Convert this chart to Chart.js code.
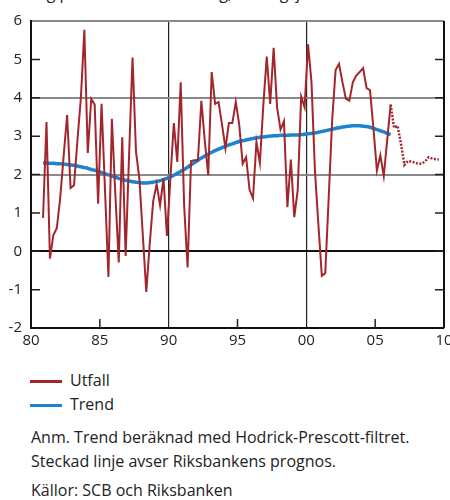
<!DOCTYPE html>
<html>
<head>
<meta charset="utf-8">
<script src="https://cdn.jsdelivr.net/npm/chart.js@4"></script>
<style>
body { margin:0; background:#fff; font-family:"Open Sans", sans-serif; color:#222; }
#wrap { position:relative; width:450px; height:500px; overflow:hidden; }
#box { position:absolute; left:0; top:0; width:450px; height:350px; }
.t { position:absolute; font-size:16px; line-height:20px; white-space:nowrap; }
.sw { position:absolute; left:30px; width:32px; height:2.5px; }
</style>
</head>
<body>
<div id="wrap">
<div class="t" style="left:22px;top:-17px;">Årlig procentuell förändring, säsongsjusterade data</div>
<div id="box"><canvas id="chart"></canvas></div>
<div class="sw" style="top:380px;background:#a3262c;"></div>
<div class="t" style="left:70px;top:370px;">Utfall</div>
<div class="sw" style="top:404px;background:#1b84d0;"></div>
<div class="t" style="left:70px;top:394px;">Trend</div>
<div class="t" style="left:31px;top:427px;">Anm. Trend beräknad med Hodrick-Prescott-filtret.</div>
<div class="t" style="left:31px;top:451px;">Steckad linje avser Riksbankens prognos.</div>
<div class="t" style="left:31px;top:480px;">Källor: SCB och Riksbanken</div>
</div>
<script>
// quarterly data, first quarter 1980 Q4 (plotted mid-quarter)
const startYear = 1980.875;

const utfall = [
0.87, 3.37, -0.19, 0.42, 0.6, 1.4, 2.5, 3.55, 1.65, 1.72,
2.9, 4.0, 5.77, 2.56, 3.97, 3.82, 1.24, 3.84, 1.6, -0.67,
3.45, 1.5, -0.29, 2.97, -0.12, 2.5, 5.05, 2.6, 1.88, 0.4,
-1.06, 0.2, 1.3, 1.75, 1.2, 1.9, 0.4, 1.9, 3.34, 2.33,
4.4, 1.18, -0.42, 2.35, 2.37, 2.37, 3.92, 2.87, 1.98, 4.67,
3.84, 3.89, 3.3, 2.68, 3.34, 3.34, 3.89, 3.3, 2.28, 2.45,
1.6, 1.38, 2.85, 2.3, 3.8, 5.07, 3.84, 5.3, 3.75, 3.17,
3.39, 1.15, 2.39, 0.89, 1.6, 4.03, 3.75, 5.39, 4.4, 2.1,
0.7, -0.64, -0.57, 1.4, 3.4, 4.72, 4.88, 4.4, 3.97, 3.92,
4.4, 4.58, 4.67, 4.77, 4.25, 4.2, 3.2, 2.1, 2.5, 1.96,
2.9, 3.82
];

// forecast starts at the last outcome quarter
const prognos = [
3.82, 3.22, 3.27, 2.8, 2.25, 2.35, 2.34, 2.31, 2.28, 2.28,
2.34, 2.45, 2.42, 2.40, 2.39
];

const trend = [
2.30, 2.30, 2.29, 2.29, 2.28, 2.28, 2.27, 2.26, 2.25, 2.24,
2.22, 2.20, 2.18, 2.16, 2.13, 2.11, 2.08, 2.05, 2.02, 1.99,
1.96, 1.93, 1.90, 1.87, 1.85, 1.83, 1.81, 1.80, 1.79, 1.78,
1.78, 1.79, 1.80, 1.82, 1.84, 1.87, 1.90, 1.94, 1.98, 2.03,
2.08, 2.13, 2.19, 2.25, 2.31, 2.37, 2.43, 2.48, 2.53, 2.58,
2.62, 2.66, 2.70, 2.74, 2.77, 2.80, 2.83, 2.86, 2.88, 2.90,
2.92, 2.94, 2.96, 2.97, 2.98, 2.99, 3.00, 3.01, 3.01, 3.02,
3.02, 3.02, 3.03, 3.03, 3.03, 3.04, 3.05, 3.06, 3.07, 3.08,
3.10, 3.12, 3.14, 3.16, 3.18, 3.20, 3.22, 3.24, 3.25, 3.26,
3.27, 3.27, 3.27, 3.26, 3.25, 3.23, 3.20, 3.17, 3.14, 3.11,
3.07, 3.04
];

const xTicks = [1980, 1985, 1990, 1995, 2000, 2005, 2010];

const toPoints = (arr, offset) => arr.map((v, i) => ({ x: startYear + (i + offset) / 4, y: v }));

const red = "#a3262c";
const blue = "#1b84d0";

// inward tick marks + right frame
const frame = {
  id: "frame",
  afterDraw(chart) {
    const ctx = chart.ctx;
    const a = chart.chartArea;
    const xs = chart.scales.x, ys = chart.scales.y;
    ctx.save();
    ctx.strokeStyle = "#222";
    ctx.lineWidth = 1.5;
    ctx.beginPath();
    for (let v = -1; v <= 5; v++) {
      const y = ys.getPixelForValue(v);
      ctx.moveTo(a.left, y); ctx.lineTo(a.left + 9, y);
      ctx.moveTo(a.right - 9, y); ctx.lineTo(a.right, y);
    }
    [1985, 1995, 2005].forEach(v => {
      const x = xs.getPixelForValue(v);
      ctx.moveTo(x, a.bottom); ctx.lineTo(x, a.bottom - 9);
    });
    ctx.stroke();
    ctx.lineWidth = 2;
    ctx.strokeStyle = "#111";
    ctx.beginPath();
    ctx.moveTo(a.right, a.top); ctx.lineTo(a.right, a.bottom);
    ctx.stroke();
    ctx.restore();
  }
};

new Chart(document.getElementById("chart"), {
  type: "line",
  data: {
    datasets: [
      { label: "Utfall", data: toPoints(utfall, 0), borderColor: red, borderWidth: 2, pointRadius: 0, tension: 0 },
      { label: "Prognos", data: toPoints(prognos, utfall.length - 1), borderColor: red, borderWidth: 2.5, borderDash: [2, 1.5], pointRadius: 0, tension: 0 },
      { label: "Trend", data: toPoints(trend, 0), borderColor: blue, borderWidth: 3.5, pointRadius: 0, tension: 0.3 }
    ]
  },
  options: {
    responsive: true,
    maintainAspectRatio: false,
    animation: false,
    layout: { padding: { top: 21, right: 6, left: 0, bottom: 0 } },
    plugins: { legend: { display: false }, tooltip: { enabled: false } },
    scales: {
      x: {
        type: "linear", min: 1980, max: 2010,
        afterBuildTicks: s => { s.ticks = xTicks.map(v => ({ value: v })); },
        afterFit: s => { s.height = 22; s.paddingLeft = 0; s.paddingRight = 0; },
        ticks: {
          padding: 4, color: "#222", font: { family: "Open Sans", size: 15 },
          maxRotation: 0, autoSkip: false,
          callback: v => String(v % 100).padStart(2, "0")
        },
        grid: {
          drawTicks: false,
          color: c => (c.tick && (c.tick.value === 1990 || c.tick.value === 2000)) ? "#222" : "rgba(0,0,0,0)",
          lineWidth: 1.2
        },
        border: { display: true, color: "#111", width: 2 }
      },
      y: {
        min: -2, max: 6,
        afterFit: s => { s.width = 31; s.paddingTop = 0; s.paddingBottom = 0; },
        ticks: { stepSize: 1, padding: 9, color: "#222", font: { family: "Open Sans", size: 15 } },
        grid: {
          drawTicks: false,
          color: c => {
            const v = c.tick ? c.tick.value : null;
            if (v === 0) return "#111";
            if (v === 2 || v === 4 || v === 6) return "#8a8a8a";
            return "rgba(0,0,0,0)";
          },
          lineWidth: 2
        },
        border: { display: true, color: "#111", width: 2 }
      }
    }
  },
  plugins: [frame]
});
</script>
</body>
</html>
